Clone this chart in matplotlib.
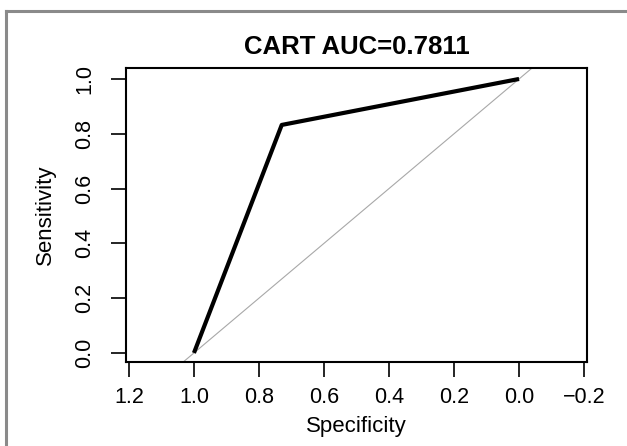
import matplotlib
matplotlib.use("Agg")
import matplotlib.pyplot as plt
from matplotlib.lines import Line2D

# ROC operating points for the CART model (specificity, sensitivity)
specificity = [1.0, 0.73, 0.0]
sensitivity = [0.0, 0.8322, 1.0]
auc = 0.7811
tick_vals = [1.2, 1.0, 0.8, 0.6, 0.4, 0.2, 0.0, -0.2]
ytick_vals = [0.0, 0.2, 0.4, 0.6, 0.8, 1.0]

plt.rcParams["font.family"] = ["Liberation Sans", "DejaVu Sans"]

W, H = 627, 446
fig = plt.figure(figsize=(W / 100, H / 100), dpi=100)
ax = fig.add_axes([126 / W, (H - 362) / H, (587 - 126) / W, (362 - 68) / H])

# chance line
ax.axline((1, 0), (0, 1), color="#a8a8a8", lw=0.8, zorder=1)
ax.plot(specificity, sensitivity, color="black", lw=3, solid_capstyle="butt", zorder=2)

ax.set_xlim(1.209, -0.209)
ax.set_ylim(-0.033, 1.04)
ax.set_xticks(tick_vals)
ax.set_xticklabels([f"{v:.1f}".replace("-", "\u2212") for v in tick_vals])
ax.set_yticks(ytick_vals)
ax.set_yticklabels([f"{v:.1f}" for v in ytick_vals], rotation=90, va="center")

ax.tick_params(axis="both", direction="out", length=11, width=1.2, labelsize=15.5, colors="black")
ax.tick_params(axis="x", pad=7)
ax.tick_params(axis="y", pad=11)
for s in ax.spines.values():
    s.set_linewidth(1.5)
    s.set_color("black")

ax.set_title(f"CART AUC={auc}", fontsize=18.5, fontweight="bold", pad=10)
ax.set_xlabel("Specificity", fontsize=16, labelpad=6)
ax.set_ylabel("Sensitivity", fontsize=16, labelpad=13)

# gray frame around the figure (top and left edges)
fx = 6 / W
fy = 1 - 11 / H
fig.add_artist(Line2D([fx, fx], [0, fy], transform=fig.transFigure, color="#8a8a8a", lw=2.2))
fig.add_artist(Line2D([fx, 1], [fy, fy], transform=fig.transFigure, color="#8a8a8a", lw=2.2))

fig.savefig("out.png", dpi=100)
